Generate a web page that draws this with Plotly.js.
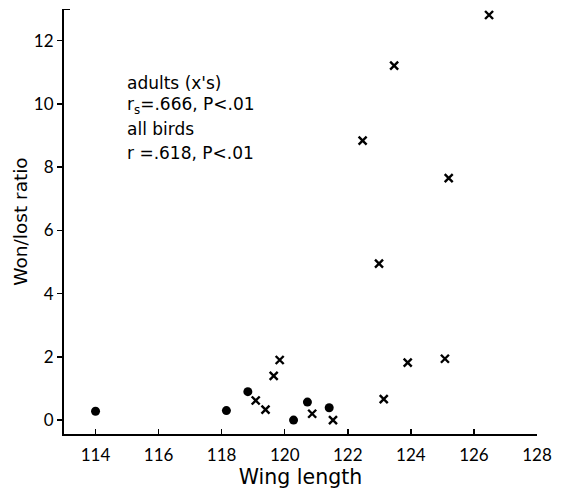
<!DOCTYPE html>
<html>
<head>
<meta charset="utf-8">
<script src="https://cdn.plot.ly/plotly-3.0.1.min.js"></script>
<style>html,body{margin:0;padding:0;background:#fff;}#chart{width:565px;height:497px;}</style>
</head>
<body>
<div id="chart"></div>
<script>
// Juveniles (filled circles)
var juvWing = [114.0, 118.15, 118.83, 120.28, 120.72, 121.41];
var juvRatio = [0.28, 0.30, 0.90, 0.00, 0.57, 0.39];
// Adults (x's)
var adultWing = [119.08, 119.39, 119.65, 119.84, 120.87, 121.53, 123.14, 123.9, 125.08, 122.99, 125.2, 122.47, 123.47, 126.48];
var adultRatio = [0.62, 0.33, 1.40, 1.90, 0.20, 0.00, 0.66, 1.82, 1.94, 4.95, 7.65, 8.84, 11.21, 12.81];
var xTicks = [114, 116, 118, 120, 122, 124, 126, 128];
var yTicks = [0, 2, 4, 6, 8, 10, 12];
var statLines = ["adults (x's)", "r<sub>s</sub>=.666, P&lt;.01", "all birds", "r =.618, P&lt;.01"];

var tickFont = "Lato, 'Open Sans', sans-serif";
var textFont = "'DejaVu Sans', Verdana, sans-serif";
var traces = [
  {x: juvWing, y: juvRatio, mode: 'markers', type: 'scatter',
   marker: {symbol: 'circle', size: 9, color: '#000'}, hoverinfo: 'skip'},
  {x: adultWing, y: adultRatio, mode: 'markers', type: 'scatter',
   marker: {symbol: 'x-thin-open', size: 8, color: '#000', line: {width: 2.4, color: '#000'}}, hoverinfo: 'skip'}
];
var statY = [10.67, 9.95, 9.22, 8.46];
var annotations = statLines.map(function (t, i) {
  return {text: t, x: 114.95, y: statY[i], xref: 'x', yref: 'y', xanchor: 'left', yanchor: 'middle',
          showarrow: false, font: {family: textFont, size: 17, color: '#000'}};
});
var layout = {
  width: 565, height: 497,
  margin: {l: 64, r: 28, t: 9, b: 63},
  paper_bgcolor: '#fff', plot_bgcolor: '#fff',
  showlegend: false,
  font: {family: tickFont, color: '#000'},
  xaxis: {
    range: [113, 128], tickvals: xTicks, ticktext: xTicks.map(String),
    ticks: 'inside', ticklen: 5, tickwidth: 1.5, tickcolor: '#000',
    showline: true, linewidth: 2, linecolor: '#000', showgrid: false, zeroline: false,
    tickfont: {size: 17, family: tickFont}, ticklabelstandoff: 5,
    title: {text: 'Wing length', font: {size: 20.5, family: textFont}, standoff: 5}
  },
  yaxis: {
    range: [-0.44, 13], tickvals: yTicks, ticktext: yTicks.map(String),
    ticks: 'outside', ticklen: 5, tickwidth: 1.5, tickcolor: '#000',
    showline: true, linewidth: 2, linecolor: '#000', showgrid: false, zeroline: false,
    tickfont: {size: 17, family: tickFont},
    title: {text: 'Won/lost ratio', font: {size: 18.5, family: textFont}, standoff: 1}
  },
  shapes: [{type: 'line', xref: 'x', yref: 'y', xsizemode: 'pixel', xanchor: 113, x0: 0, x1: 6,
            y0: 13, y1: 13, line: {color: '#000', width: 2}}],
  annotations: annotations
};
Plotly.newPlot('chart', traces, layout, {staticPlot: true, displayModeBar: false});
</script>
</body>
</html>
